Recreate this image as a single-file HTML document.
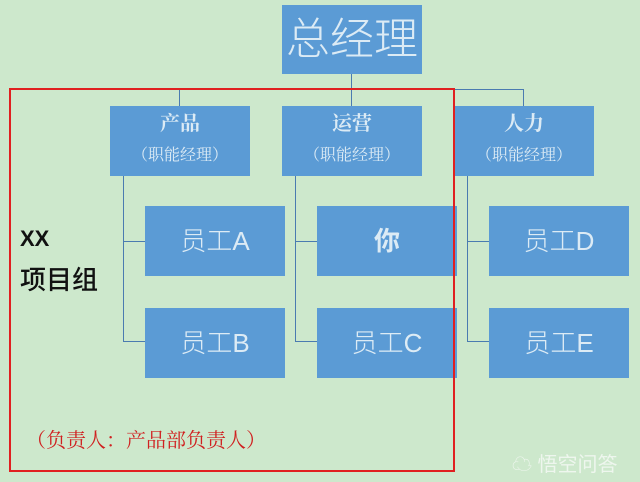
<!DOCTYPE html>
<html><head><meta charset="utf-8"><style>
body{margin:0;width:640px;height:482px;background:#cde8cc;position:relative;overflow:hidden;font-family:"Liberation Sans","Noto Sans CJK SC",sans-serif}
.b{position:absolute;background:#5b9bd5;color:#dcebf5;text-align:center}
.l{position:absolute;background:#4a7bb0}
.e{width:140px;height:70px;line-height:70px;font-size:26px;font-weight:300}
.m{width:140px;height:70px;font-family:"Liberation Serif","Noto Serif CJK SC",serif}
.m .t{font-size:20px;margin-top:5px;line-height:26px;font-weight:bold}
.m .s{font-size:16px;margin-top:9px;line-height:20px}
</style></head><body>
<div class="l" style="left:351px;top:74px;width:1px;height:16px"></div>
<div class="l" style="left:179px;top:89px;width:345px;height:1px"></div>
<div class="l" style="left:179px;top:89px;width:1px;height:17px"></div>
<div class="l" style="left:351px;top:89px;width:1px;height:17px"></div>
<div class="l" style="left:523px;top:89px;width:1px;height:17px"></div>
<div class="l" style="left:123px;top:176px;width:1px;height:166px"></div>
<div class="l" style="left:295px;top:176px;width:1px;height:166px"></div>
<div class="l" style="left:467px;top:176px;width:1px;height:166px"></div>
<div class="l" style="left:123px;top:241px;width:22px;height:1px"></div>
<div class="l" style="left:295px;top:241px;width:22px;height:1px"></div>
<div class="l" style="left:467px;top:241px;width:22px;height:1px"></div>
<div class="l" style="left:123px;top:341px;width:22px;height:1px"></div>
<div class="l" style="left:295px;top:341px;width:22px;height:1px"></div>
<div class="l" style="left:467px;top:341px;width:22px;height:1px"></div>
<div class="b" style="left:282px;top:5px;width:140px;height:69px;line-height:69px;font-size:44px;font-weight:300">总经理</div>
<div class="b m" style="left:110px;top:106px"><div class="t">产品</div><div class="s">（职能经理）</div></div>
<div class="b m" style="left:282px;top:106px"><div class="t">运营</div><div class="s">（职能经理）</div></div>
<div class="b m" style="left:454px;top:106px"><div class="t">人力</div><div class="s">（职能经理）</div></div>
<div class="b e" style="left:145px;top:206px">员工A</div>
<div class="b e" style="left:317px;top:206px;font-weight:bold">你</div>
<div class="b e" style="left:489px;top:206px">员工D</div>
<div class="b e" style="left:145px;top:308px">员工B</div>
<div class="b e" style="left:317px;top:308px">员工C</div>
<div class="b e" style="left:489px;top:308px">员工E</div>
<div style="position:absolute;left:9px;top:88px;width:442px;height:380px;border:2px solid #e02020"></div>
<div style="position:absolute;left:20px;top:226px;font-size:22px;font-weight:bold;color:#111">XX</div>
<div style="position:absolute;left:20px;top:260px;font-size:26px;color:#111;font-weight:500">项目组</div>
<div style="position:absolute;left:26px;top:424px;font-size:20px;color:#d02020;font-family:'Liberation Serif','Noto Serif CJK SC',serif">（负责人：产品部负责人）</div>
<div style="position:absolute;left:512px;top:448px;font-size:20px;color:#eef6ee">☁ 悟空问答</div>
</body></html>
